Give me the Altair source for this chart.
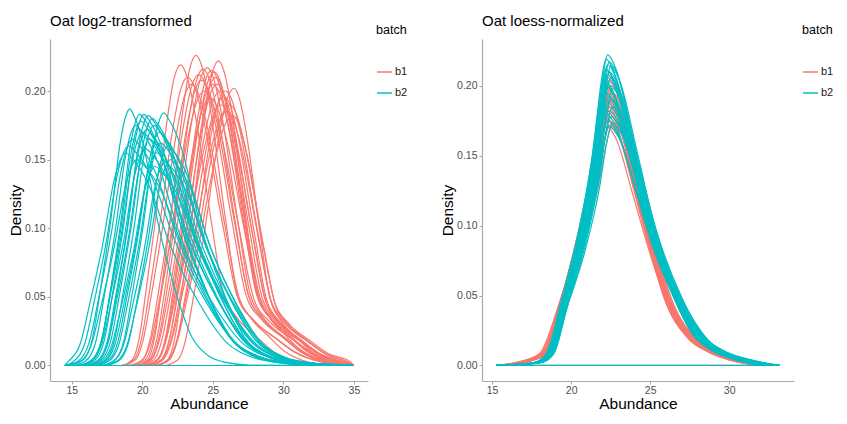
import altair as alt
import pandas as pd

# ---------------- data ----------------
TITLES = ["Oat log2-transformed", "Oat loess-normalized"]

# Panel 1: "Oat log2-transformed"
L_RANGE = [14.5, 35.0]
# shape of a typical b1 curve (offset from peak, fraction of peak height)
L1_OFF = [-5.0, -4.0, -3.4, -2.9, -2.1, -1.1, -0.5, 0.0, 0.5, 1.0, 2.3, 3.2, 4.2, 5.7, 7.0, 8.5, 10.0]
L1_REL = [0.0, 0.02, 0.10, 0.24, 0.48, 0.82, 0.96, 1.0, 0.96, 0.86, 0.48, 0.24, 0.16, 0.095, 0.045, 0.015, 0.003]
L1_PEAK = [22.7, 23.8, 25.4, 24.3, 24.6, 24.9, 25.1, 24.0, 25.3, 25.8, 26.5, 25.0,
           24.4, 25.6, 26.0, 24.8, 23.5, 25.2, 26.2, 24.2, 25.5, 23.2, 26.4, 25.9]
L1_HEIGHT = [0.219, 0.226, 0.222, 0.216, 0.217, 0.215, 0.214, 0.212, 0.205, 0.196, 0.202, 0.205,
             0.200, 0.190, 0.185, 0.195, 0.205, 0.210, 0.190, 0.208, 0.200, 0.210, 0.182, 0.200]
L1_WL = [0.85, 0.85, 0.90, 0.95, 1.00, 0.95, 1.00, 1.00, 1.05, 1.10, 1.00, 1.05,
         1.10, 1.15, 1.15, 1.05, 1.00, 0.95, 1.10, 1.00, 1.05, 0.95, 1.15, 1.00]
L1_WR = [0.95, 0.90, 0.85, 1.00, 0.95, 1.00, 0.95, 1.05, 1.00, 0.95, 0.80, 1.05,
         1.10, 1.00, 1.00, 1.10, 1.05, 0.95, 1.00, 1.05, 1.00, 1.10, 0.95, 1.00]

L2_OFF = [-4.5, -3.5, -2.8, -2.2, -1.4, -0.7, -0.3, 0.0, 0.5, 1.5, 3.0, 5.0, 6.8, 8.5, 10.5, 13.0]
L2_REL = [0.0, 0.02, 0.10, 0.29, 0.57, 0.87, 0.97, 1.0, 0.97, 0.86, 0.57, 0.29, 0.11, 0.04, 0.012, 0.002]
L2_PEAK = [19.1, 19.8, 20.1, 20.4, 20.7, 21.5, 19.5, 20.0, 20.8, 21.2, 19.3, 20.5,
           21.8, 19.0, 20.2, 21.0, 22.0, 19.6, 20.9, 21.6, 18.8, 20.3, 21.3, 19.9]
L2_HEIGHT = [0.187, 0.183, 0.183, 0.182, 0.180, 0.184, 0.175, 0.170, 0.175, 0.170, 0.165, 0.165,
             0.160, 0.160, 0.158, 0.155, 0.150, 0.150, 0.145, 0.148, 0.155, 0.172, 0.162, 0.178]
L2_WL = [0.95, 0.95, 1.00, 1.00, 1.05, 1.00, 1.00, 1.05, 1.00, 1.05, 1.10, 1.05,
         1.00, 1.10, 1.10, 1.05, 1.10, 1.15, 1.10, 1.05, 1.15, 1.00, 1.05, 1.00]
L2_WR = [0.65, 0.95, 0.90, 1.00, 0.95, 0.85, 1.00, 1.05, 1.00, 1.00, 1.05, 1.05,
         0.95, 1.10, 1.05, 1.00, 0.95, 1.10, 1.05, 1.00, 1.05, 1.00, 1.00, 0.95]

# Panel 2: "Oat loess-normalized"
R_RANGE = [15.26, 33.2]
R1_OFF = [-7.0, -5.0, -4.0, -2.9, -1.8, -0.9, -0.3, 0.0, 0.6, 1.6, 2.6, 3.8, 5.3, 6.6, 8.0, 9.5]
R1_REL = [0.0, 0.02, 0.05, 0.24, 0.48, 0.72, 0.93, 1.0, 0.95, 0.72, 0.48, 0.24, 0.10, 0.05, 0.02, 0.004]
R1_PEAK = [22.3, 22.4, 22.2, 22.5, 22.3, 22.4, 22.6, 22.2, 22.3, 22.5, 22.4, 22.3,
           22.2, 22.4, 22.5, 22.3, 22.6, 22.4, 22.2, 22.5, 22.3, 22.4]
R1_HEIGHT = [0.206, 0.204, 0.200, 0.200, 0.198, 0.196, 0.195, 0.193, 0.190, 0.190, 0.188, 0.185,
             0.183, 0.180, 0.178, 0.176, 0.174, 0.172, 0.171, 0.200, 0.195, 0.185]
R1_W = [0.96, 0.96, 0.97, 0.97, 0.98, 0.98, 0.99, 0.99, 1.00, 1.00, 1.01, 1.01,
        1.02, 1.02, 1.03, 1.03, 1.04, 1.04, 1.05, 0.98, 1.00, 1.02]

R2_OFF = [-7.0, -4.5, -3.7, -2.7, -1.6, -0.8, -0.3, 0.0, 0.6, 1.7, 2.8, 4.4, 5.8, 7.0, 8.5, 10.9]
R2_REL = [0.0, 0.01, 0.04, 0.24, 0.48, 0.72, 0.93, 1.0, 0.95, 0.72, 0.48, 0.24, 0.10, 0.05, 0.02, 0.0]
R2_PEAK = [22.3, 22.2, 22.4, 22.3, 22.5, 22.2, 22.4, 22.3, 22.5, 22.1, 22.4, 22.3, 22.6,
           22.2, 22.4, 22.5, 22.3, 22.6, 22.4, 22.2, 22.5, 22.3, 22.6, 22.4, 22.3, 22.2]
R2_HEIGHT = [0.222, 0.219, 0.217, 0.215, 0.214, 0.212, 0.210, 0.208, 0.206, 0.205, 0.203, 0.200, 0.198,
             0.195, 0.192, 0.190, 0.188, 0.185, 0.182, 0.180, 0.178, 0.175, 0.173, 0.171, 0.210, 0.200]
R2_W = [0.95, 0.95, 0.96, 0.96, 0.97, 0.97, 0.98, 0.98, 0.99, 0.99, 1.00, 1.00, 1.01,
        1.01, 1.02, 1.02, 1.03, 1.03, 1.04, 1.04, 1.05, 1.05, 1.06, 1.06, 0.98, 1.00]

BATCHES = ["b1", "b2"]
COLORS = ["#F8766D", "#00BFC4"]


def curves(name, batch, off, rel, peaks, heights, wl, wr, xr):
    rows = []
    for i, (p, h, a, b) in enumerate(zip(peaks, heights, wl, wr)):
        sid = f"{name}{i}"
        pts = [(xr[0], 0.0)]
        for o, r in zip(off, rel):
            x = p + o * (a if o < 0 else b)
            if xr[0] < x < xr[1]:
                pts.append((x, h * r))
        pts.append((xr[1], 0.0))
        for k, (x, y) in enumerate(pts):
            rows.append({"sample": sid, "batch": batch, "x": x, "y": y, "k": k})
    # baseline of the density outline
    rows.append({"sample": f"{name}base", "batch": batch, "x": xr[0], "y": 0.0, "k": 0})
    rows.append({"sample": f"{name}base", "batch": batch, "x": xr[1], "y": 0.0, "k": 1})
    return pd.DataFrame(rows)


FONT = "Liberation Sans"


def panel(title, d1, d2, xdom, ydom, xticks, yticks, width, height):
    xs = alt.Scale(domain=xdom, nice=False, zero=False)
    ys = alt.Scale(domain=ydom, nice=False, zero=False)
    color = alt.Color(
        "batch:N",
        scale=alt.Scale(domain=BATCHES, range=COLORS),
        legend=alt.Legend(
            title="batch", orient="none", legendX=width + 8, legendY=-15,
            symbolType="stroke", symbolStrokeWidth=1.5, symbolSize=225,
            titleFontSize=12.5, titleFontWeight="normal", titleColor="#000000",
            titlePadding=27, labelFontSize=11, labelColor="#1a1a1a",
            rowPadding=7, labelOffset=2, titleFont=FONT, labelFont=FONT,
            columnPadding=0, padding=0,
        ),
    )

    def layer(d):
        return alt.Chart(d).mark_line(strokeWidth=1.2, interpolate="monotone").encode(
            x=alt.X("x:Q", scale=xs, title="Abundance",
                    axis=alt.Axis(values=xticks, format="d")),
            y=alt.Y("y:Q", scale=ys, title="Density",
                    axis=alt.Axis(values=yticks, format=".2f")),
            color=color,
            detail="sample:N",
            order="k:Q",
        )

    ttl = alt.Chart(pd.DataFrame({"t": [title]})).mark_text(
        align="left", baseline="middle", fontSize=15, font=FONT, color="#000000"
    ).encode(x=alt.value(0), y=alt.value(-18), text="t:N")

    return alt.layer(layer(d1), layer(d2), ttl).properties(width=width, height=height)


left = panel(
    TITLES[0],
    curves("L1_", "b1", L1_OFF, L1_REL, L1_PEAK, L1_HEIGHT, L1_WL, L1_WR, L_RANGE),
    curves("L2_", "b2", L2_OFF, L2_REL, L2_PEAK, L2_HEIGHT, L2_WL, L2_WR, L_RANGE),
    [13.45, 36.0], [-0.0113, 0.2379], [15, 20, 25, 30, 35], [0.0, 0.05, 0.10, 0.15, 0.20],
    318, 342,
)
right = panel(
    TITLES[1],
    curves("R1_", "b1", R1_OFF, R1_REL, R1_PEAK, R1_HEIGHT, R1_W, R1_W, R_RANGE),
    curves("R2_", "b2", R2_OFF, R2_REL, R2_PEAK, R2_HEIGHT, R2_W, R2_W, R_RANGE),
    [14.36, 34.1], [-0.0111, 0.2334], [15, 20, 25, 30], [0.0, 0.05, 0.10, 0.15, 0.20],
    312, 342,
)

chart = alt.hconcat(left, right, spacing=32).resolve_scale(
    x="independent", y="independent", color="independent"
).configure(padding={"top": 6, "left": 0, "right": 0, "bottom": 0}, font=FONT).configure_view(
    stroke=None
).configure_axis(
    grid=False, domainColor="#aaaaaa", tickColor="#aaaaaa", tickSize=3,
    labelFontSize=10.5, labelColor="#4d4d4d", labelPadding=1, labelFont=FONT,
    titleFontSize=15.5, titleFontWeight="normal", titleColor="#000000", titleFont=FONT,
    domainWidth=1.2,
).configure_axisX(titlePadding=1).configure_axisY(titlePadding=1, labelPadding=2)

chart.save("out.html", embed_options={"renderer": "svg", "actions": False})
